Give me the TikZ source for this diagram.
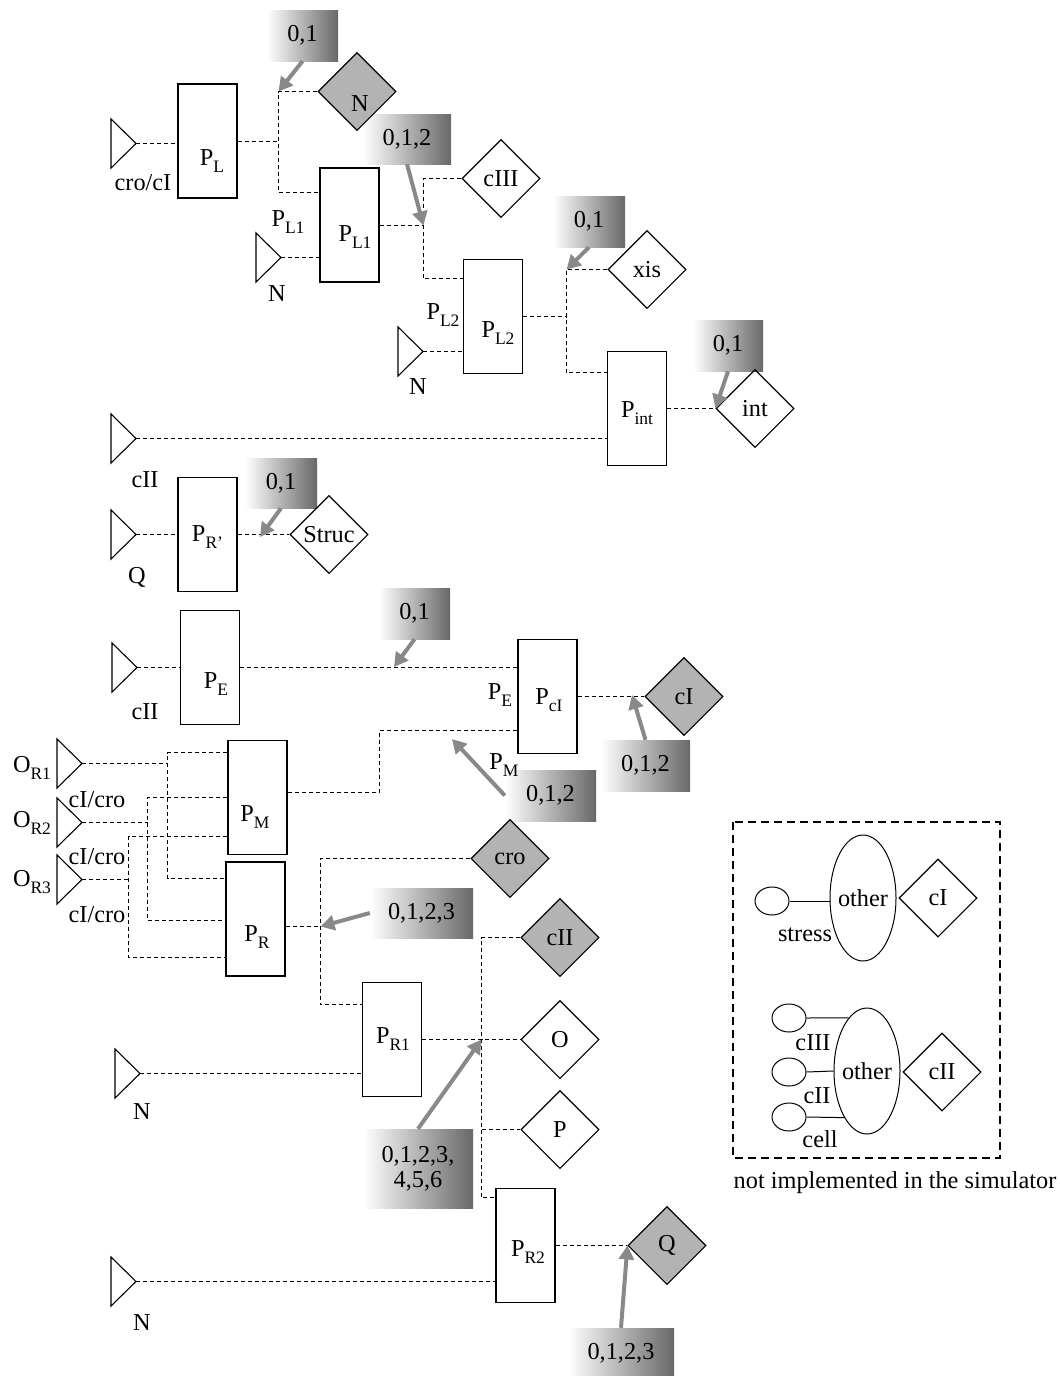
\documentclass[tikz,border=0pt]{standalone}
\usepackage{fontspec}
\setmainfont{Liberation Serif}
\usetikzlibrary{shapes.geometric,arrows.meta}
\definecolor{hintgray}{RGB}{137,137,137}
\definecolor{fillgray}{RGB}{179,179,179}
\definecolor{fadedark}{RGB}{104,104,104}
\newcommand{\sbs}[2]{#1\raisebox{-7pt}{\fontsize{17.5}{17.5}\selectfont #2}}
\tikzset{inport/.pic={\draw[line width=1.1pt] (-25,-24.5) -- (0,0) -- (-25,24.5) -- cycle; \coordinate (-tip) at (0,0);}}
\begin{document}
\begin{tikzpicture}[x=1pt,y=-1pt,
  font=\fontsize{24.3}{27}\selectfont,
  proc/.style={draw,line width=1.1pt,minimum width=59pt,minimum height=114pt,inner sep=0pt},
  outd/.style={draw,diamond,line width=1.1pt,minimum width=78pt,minimum height=78pt,inner sep=0pt},
  outf/.style={outd,fill=fillgray},
  fade/.style={left color=white,right color=fadedark,minimum width=71pt,minimum height=51pt,inner sep=0pt},
  wire/.style={line width=1pt,dash pattern=on 4pt off 3pt},
  hint/.style={color=hintgray,line width=4pt,-{Triangle[length=14pt,width=15pt]}},
  small/.style={draw,ellipse,line width=1pt,minimum width=34pt,minimum height=28pt,inner sep=0pt},
  big/.style={draw,ellipse,line width=1pt,minimum width=66pt,minimum height=126pt,inner sep=0pt}]
  \useasboundingbox (0,0) rectangle (1060,1376);

  \node[fade] (g1) at (302.5,35.5) {0,1};
  \node[fade,minimum width=88pt,minimum height=50pt] (g2) at (407,139) {0,1,2};
  \node[fade,minimum width=72pt] (g3) at (589,221.5) {0,1};
  \node[fade,minimum width=70pt] (g4) at (728,345.5) {0,1};
  \node[fade,minimum width=72pt,minimum height=50pt] (g5) at (281,483) {0,1};
  \node[fade] (g6) at (414.5,613.5) {0,1};
  \node[fade,minimum width=89pt] (g7) at (645.5,765.5) {0,1,2};
  \node[fade,minimum width=91pt] (g8) at (550.5,795.5) {0,1,2};
  \node[fade,minimum width=103pt,minimum height=50pt] (g9) at (421.5,913) {0,1,2,3};
  \node[fade,minimum width=110pt,minimum height=79pt,align=center,
    font=\fontsize{24.3}{25}\selectfont] (g10) at (418,1168.5) {0,1,2,3,\\4,5,6};
  \node[fade,minimum width=106pt,minimum height=50pt] (g11) at (621,1353) {0,1,2,3};

  \node[proc,label={[shift={(4.5,20)}]center:\sbs{P}{L}}] (pl) at (207.5,141) {};
  \node[proc,label={[shift={(5.5,12)}]center:\sbs{P}{L1}}] (pl1) at (349.5,225) {};
  \node[proc,label={[shift={(5,17)}]center:\sbs{P}{L2}}] (pl2) at (493,316.5) {};
  \node[proc,label={[shift={(0,5)}]center:\sbs{P}{int}}] (pint) at (637,408.5) {};
  \node[proc,label={[shift={(0,3)}]center:\sbs{P}{R’}}] (prp) at (207.5,534.5) {};
  \node[proc,label={[shift={(6,17)}]center:\sbs{P}{E}}] (pe) at (210,667.5) {};
  \node[proc,label={[shift={(1.5,3.5)}]center:\sbs{P}{cI}}] (pci) at (547.5,696.5) {};
  \node[proc,label={[shift={(-2.5,20)}]center:\sbs{P}{M}}] (pm) at (257.5,797.5) {};
  \node[proc,label={[shift={(1.5,18)}]center:\sbs{P}{R}}] (pr) at (255.5,919) {};
  \node[proc,label={[shift={(1,0)}]center:\sbs{P}{R1}}] (pr1) at (392,1039.5) {};
  \node[proc,label={[shift={(2.5,6.5)}]center:\sbs{P}{R2}}] (pr2) at (525.5,1245.5) {};

  \node[outf,label={[shift={(3,12)}]center:N}] (dn) at (357,91.5) {};
  \node[outd] (dciii) at (501,178.5) {cIII};
  \node[outd] (dxis) at (647,269.5) {xis};
  \node[outd] (dint) at (755,408.5) {int};
  \node[outd] (dstruc) at (329,534.5) {Struc};
  \node[outf] (dci) at (684,696.5) {cI};
  \node[outf] (dcro) at (510,858.5) {cro};
  \node[outf] (dcii) at (560,937.5) {cII};
  \node[outd] (do) at (560,1039.5) {O};
  \node[outd] (dp) at (560,1129.5) {P};
  \node[outf] (dq) at (667,1245.5) {Q};

  \foreach \n/\x/\y in {tcro/136/143.5,tn1/281/257.5,tn2/423/351.5,tcii1/136/438.5,tq/136/534.5,
    tcii2/137/667.5,tor1/82/763.5,tor2/82/822.5,tor3/82/879.5,tn3/140/1073.5,tn4/136/1281.5}
    \pic (\n) at (\x,\y) {inport};

  \node (lcro) at (143,183) {cro/cI};
  \node (ln1) at (277,294) {N};
  \node (ln2) at (418,387) {N};
  \node (lcii1) at (145,480) {cII};
  \node (lq) at (137,577) {Q};
  \node (lcii2) at (145,712) {cII};
  \node (lor1) at (32,768) {\sbs{O}{R1}};
  \node (lor2) at (32,823) {\sbs{O}{R2}};
  \node (lor3) at (32,882) {\sbs{O}{R3}};
  \node (lcc1) at (97,800) {cI/cro};
  \node (lcc2) at (97,857) {cI/cro};
  \node (lcc3) at (97,915) {cI/cro};
  \node (ln3) at (142,1112) {N};
  \node (ln4) at (142,1323) {N};
  \node (lpl1) at (288,222) {\sbs{P}{L1}};
  \node (lpl2) at (443,315) {\sbs{P}{L2}};
  \node (lpe) at (500,695) {\sbs{P}{E}};
  \node (lpm) at (504,765) {\sbs{P}{M}};

  \coordinate (j1) at (278.5,141.5);
  \coordinate (j2) at (423.5,225.5);
  \coordinate (j3) at (566.5,316.5);
  \coordinate (j4) at (379.5,730.5);
  \coordinate (j5) at (167.5,763.5);
  \coordinate (j6) at (147.5,822.5);
  \coordinate (j7) at (128.5,879.5);
  \coordinate (j8) at (320.5,926.5);
  \coordinate (j9) at (481.5,1039.5);

  \draw[wire] (tcro-tip) -- (tcro-tip -| pl.west);
  \draw[wire] (pl.east |- j1) -- (j1);
  \draw[wire] (dn.west) -| (j1) |- ([yshift=-25pt]pl1.north west);
  \draw[wire] (tn1-tip) -- (tn1-tip -| pl1.west);
  \draw[wire] (pl1.east |- j2) -- (j2);
  \draw[wire] (dciii.west) -| (j2) |- ([yshift=-20pt]pl2.north west);
  \draw[wire] (tn2-tip) -- (tn2-tip -| pl2.west);
  \draw[wire] (pl2.east) -- (j3);
  \draw[wire] (dxis.west) -| (j3) |- ([yshift=-22pt]pint.north west);
  \draw[wire] (pint.east) -- (dint.west);
  \draw[wire] (tcii1-tip) -- (tcii1-tip -| pint.west);
  \draw[wire] (tq-tip) -- (tq-tip -| prp.west);
  \draw[wire] (prp.east) -- (dstruc.west);
  \draw[wire] (tcii2-tip) -- (tcii2-tip -| pe.west);
  \draw[wire] (pe.east) -- (pe.east -| pci.west);
  \draw[wire] (pci.east) -- (dci.west);
  \draw[wire] (pci.west |- j4) -- (j4) |- ([yshift=5pt]pm.east);
  \draw[wire] (tor1-tip) -- (j5);
  \draw[wire] ([yshift=-13pt]pm.north west) -| (j5) |- ([yshift=-17.5pt]pr.north west);
  \draw[wire] (tor2-tip) -- (j6);
  \draw[wire] (pm.west) -| (j6) |- ([yshift=-1.5pt]pr.west);
  \draw[wire] (tor3-tip) -- (j7);
  \draw[wire] ([yshift=-97pt]pm.north west) -| (j7) |- ([yshift=-96.5pt]pr.north west);
  \draw[wire] (pr.east |- j8) -- (j8);
  \draw[wire] (dcro.west) -| (j8) |- ([yshift=-23pt]pr1.north west);
  \draw[wire] (tn3-tip) -- (tn3-tip -| pr1.west);
  \draw[wire] (pr1.east) -- (j9) -- (do.west);
  \draw[wire] (dcii.west) -| (j9) |- ([yshift=-10pt]pr2.north west);
  \draw[wire] (j9 |- dp.west) -- (dp.west);
  \draw[wire] (tn4-tip) -- (tn4-tip -| pr2.west);
  \draw[wire] (pr2.east) -- (dq.west);

  \coordinate (h5) at (260,537);
  \coordinate (h6) at (394,667);
  \coordinate (h7) at (632,695);
  \coordinate (h8) at (452,739);
  \draw[hint] (g1.south) -- (j1 |- dn.west);
  \draw[hint] (g2.south) -- (j2);
  \draw[hint] (g3.south) -- (j3 |- dxis.west);
  \draw[hint] (g4.south) -- (dint.west);
  \draw[hint] (g5.south) -- (h5);
  \draw[hint] (g6.south) -- (h6);
  \draw[hint] (g7.north) -- (h7);
  \draw[hint] (g8.west) -- (h8);
  \draw[hint] (g9.west) -- (j8);
  \draw[hint] (g10.north) -- (j9);
  \draw[hint] (g11.north) -- (dq.west);

  \draw[line width=1.5pt,dash pattern=on 8pt off 5pt] (733,822) rectangle (1000,1158);
  \node[small] (s1) at (772,901) {};
  \node[big,label=center:other] (o1) at (863,898) {};
  \node[outd] (lci) at (938,898) {cI};
  \draw[line width=1pt] (s1.east) -- (s1.east -| o1.west);
  \node (lstress) at (805,935) {stress};
  \node[small] (s2) at (789,1018) {};
  \node[small] (s3) at (789,1072) {};
  \node[small] (s4) at (789,1117) {};
  \node[big,label=center:other] (o2) at (867,1071) {};
  \node[outd] (lcii) at (942,1072) {cII};
  \draw[line width=1pt] (s2.east) -- (o2.109);
  \draw[line width=1pt] (s3.east) -- (o2.west);
  \draw[line width=1pt] (s4.east) -- (o2.244);
  \node (lciii) at (813,1043) {cIII};
  \node (lcii3) at (817,1096) {cII};
  \node (lcell) at (820,1139) {cell};
  \node (nimp) at (895,1183) {not implemented in the simulator};
\end{tikzpicture}
\end{document}
